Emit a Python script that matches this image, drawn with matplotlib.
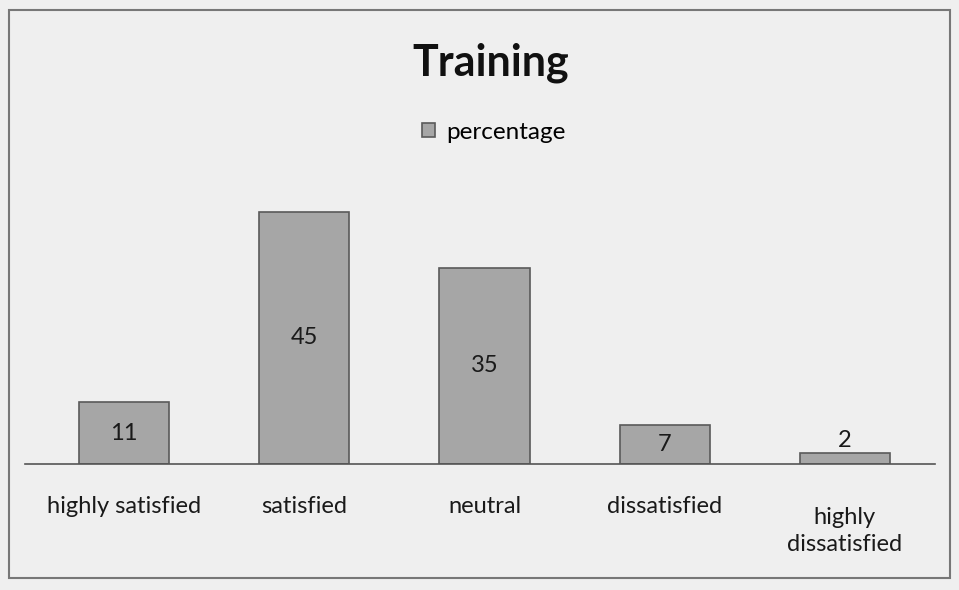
import matplotlib
matplotlib.use("Agg")
import matplotlib.pyplot as plt
import matplotlib.transforms as mtransforms
from matplotlib.patches import Rectangle

categories = ["highly satisfied", "satisfied", "neutral", "dissatisfied", "highly\ndissatisfied"]
values = [11, 45, 35, 7, 2]
series_name = "percentage"
title = "Training"

plt.rcParams['font.family'] = ['Lato', 'DejaVu Sans']

fig = plt.figure(figsize=(9.59, 5.9), dpi=100, facecolor="#efefef")
ax = fig.add_axes([0.026, 0.2136, 0.949, 0.4644])
ax.set_facecolor("none")

x = list(range(len(categories)))
bars = ax.bar(x, values, width=0.5, color="#a6a6a6", edgecolor="#5a5a5a",
              linewidth=1.2, label=series_name)
ax.set_xlim(-0.55, 4.5)
ax.set_ylim(0, 48.9)

for xi, v in zip(x, values):
    if v >= 5:
        ax.text(xi, v / 2, str(v), ha="center", va="center", fontsize=17, color="#1a1a1a")
    else:
        ax.text(xi, v + 0.4, str(v), ha="center", va="bottom", fontsize=17, color="#1a1a1a")

for s in ["top", "right", "left"]:
    ax.spines[s].set_visible(False)
ax.spines["bottom"].set_color("#555555")
ax.spines["bottom"].set_linewidth(1.2)
ax.set_yticks([])
ax.set_xticks(x)
ax.set_xticklabels([])
ax.tick_params(axis="x", length=0)

trans = mtransforms.blended_transform_factory(ax.transData, ax.transAxes)
for xi, cat in zip(x, categories):
    nlines = cat.count("\n") + 1
    yc = -43 / 274 - (nlines - 1) * 0.088
    ax.text(xi, yc, cat, transform=trans, ha="center", va="center",
            fontsize=17, color="#1a1a1a", linespacing=1.38)

fig.text(0.512, 0.893, title, ha="center", va="center", fontsize=31,
         fontweight="bold", color="#111111")
fig.legend(handles=[bars], labels=[series_name], loc="center",
           bbox_to_anchor=(0.515, 0.776), frameon=False, fontsize=17.5,
           handlelength=0.55, handleheight=0.55, handletextpad=0.45)

fig.patches.append(Rectangle((0.009, 0.02), 0.982, 0.963, transform=fig.transFigure,
                             fill=False, edgecolor="#777777", linewidth=1.5))

fig.savefig("out.png", dpi=100, facecolor=fig.get_facecolor())
